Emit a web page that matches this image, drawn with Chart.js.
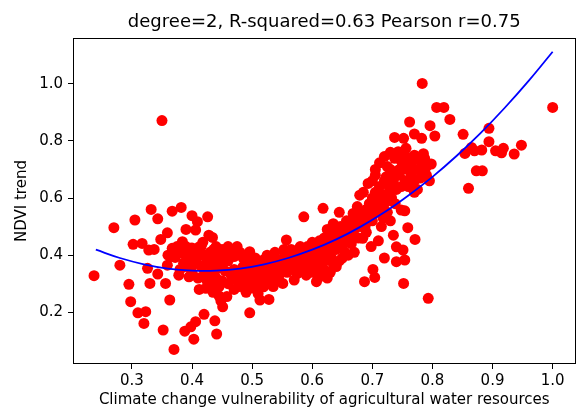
<!DOCTYPE html>
<html>
<head>
<meta charset="utf-8">
<script src="https://cdn.jsdelivr.net/npm/chart.js@4"></script>
<style>
    html, body { margin: 0; padding: 0; background: #fff; }
</style>
</head>
<body>
<canvas id="chart" width="581" height="409"></canvas>
<script>
// values
const titleText = 'degree=2, R-squared=0.63 Pearson r=0.75';
const xLabel = 'Climate change vulnerability of agricultural water resources';
const yLabel = 'NDVI trend';

const xTicks = [0.3, 0.4, 0.5, 0.6, 0.7, 0.8, 0.9, 1.0];
const yTicks = [0.2, 0.4, 0.6, 0.8, 1.0];

// fitted curve, read at intervals along x
const curveX = [0.24, 0.28, 0.32, 0.36, 0.40, 0.44, 0.48, 0.52, 0.56, 0.60, 0.64, 0.68, 0.72, 0.76, 0.80, 0.84, 0.88, 0.92, 0.96, 1.00];
const curveY = [0.419, 0.390, 0.368, 0.353, 0.346, 0.346, 0.353, 0.368, 0.390, 0.419, 0.455, 0.499, 0.550, 0.609, 0.674, 0.747, 0.827, 0.915, 1.010, 1.112];

// scatter points [x, y]
const points = [
    // left, loose part
    [0.237,0.328],[0.270,0.496],[0.280,0.365],[0.295,0.298],[0.298,0.237],[0.302,0.438],[0.305,0.523],
    [0.310,0.198],[0.317,0.441],[0.320,0.161],[0.323,0.202],[0.326,0.354],[0.328,0.418],[0.330,0.301],
    [0.332,0.560],[0.337,0.420],[0.343,0.334],[0.343,0.527],[0.348,0.455],[0.350,0.871],[0.352,0.138],
    [0.356,0.301],[0.359,0.365],[0.359,0.478],[0.363,0.243],[0.367,0.554],[0.367,0.424],[0.370,0.070],
    [0.378,0.330],[0.372,0.392],[0.382,0.567],[0.384,0.447],[0.388,0.134],[0.390,0.490],[0.395,0.324],
    [0.398,0.149],[0.400,0.538],[0.392,0.412],[0.386,0.372],[0.403,0.106],[0.406,0.167],[0.406,0.488],
    [0.409,0.517],[0.412,0.280],[0.410,0.420],[0.415,0.362],[0.402,0.398],[0.420,0.193],[0.423,0.284],
    [0.426,0.534],[0.428,0.470],[0.434,0.462],[0.438,0.170],[0.430,0.330],[0.432,0.382],[0.436,0.420],
    [0.425,0.310],[0.380,0.420],[0.360,0.400],[0.418,0.445],[0.440,0.350],[0.441,0.124],[0.445,0.257],
    [0.451,0.219],[0.378,0.418],[0.398,0.424],[0.412,0.429],
    [0.365,0.395],[0.375,0.430],[0.385,0.405],[0.390,0.430],[0.395,0.385],[0.400,0.425],[0.405,0.370],
    [0.410,0.395],[0.415,0.430],[0.420,0.400],[0.420,0.350],[0.425,0.375],[0.430,0.410],[0.435,0.360],
    [0.440,0.390],[0.440,0.430],[0.445,0.400],[0.450,0.420],[0.450,0.370],[0.455,0.395],[0.460,0.430],
    [0.460,0.380],[0.465,0.410],[0.470,0.395],[0.475,0.430],[0.480,0.410],[0.485,0.390],[0.390,0.360],
    [0.400,0.340],[0.410,0.320],[0.420,0.330],[0.430,0.300],[0.440,0.320],[0.445,0.290],[0.450,0.310],
    [0.455,0.345],[0.460,0.300],[0.465,0.330],[0.470,0.350],[0.470,0.280],[0.475,0.310],[0.480,0.335],
    [0.480,0.290],[0.485,0.360],[0.490,0.315],[0.435,0.270],[0.380,0.350],[0.448,0.240],[0.458,0.255],
    // dense band along the curve
    [0.482,0.345],[0.485,0.320],[0.488,0.300],[0.490,0.335],[0.492,0.360],[0.495,0.310],[0.497,0.345],
    [0.500,0.285],[0.500,0.325],[0.500,0.370],[0.496,0.412],[0.479,0.406],[0.496,0.198],[0.490,0.270],
    [0.495,0.380],[0.503,0.340],[0.505,0.310],[0.507,0.355],[0.510,0.330],[0.510,0.290],[0.512,0.370],
    [0.515,0.345],[0.515,0.315],[0.518,0.360],[0.519,0.289],[0.513,0.243],[0.520,0.335],[0.520,0.385],
    [0.505,0.390],[0.510,0.265],[0.522,0.350],[0.525,0.320],[0.528,0.245],[0.528,0.365],[0.530,0.340],
    [0.530,0.300],[0.533,0.380],[0.535,0.355],[0.537,0.325],[0.540,0.370],[0.540,0.345],[0.525,0.400],
    [0.535,0.290],[0.538,0.410],[0.543,0.360],[0.545,0.330],[0.547,0.385],[0.550,0.350],[0.551,0.301],
    [0.552,0.370],[0.555,0.400],[0.557,0.453],[0.558,0.340],[0.560,0.380],[0.560,0.360],[0.545,0.310],
    [0.553,0.420],[0.562,0.395],[0.565,0.350],[0.567,0.375],[0.570,0.313],[0.570,0.390],[0.572,0.410],
    [0.575,0.360],[0.577,0.385],[0.580,0.400],[0.580,0.430],[0.565,0.420],[0.575,0.335],[0.582,0.370],
    [0.585,0.395],[0.586,0.534],[0.588,0.415],[0.590,0.380],[0.592,0.430],[0.595,0.400],[0.597,0.360],
    [0.600,0.420],[0.600,0.445],[0.590,0.350],[0.598,0.390],[0.602,0.400],[0.605,0.430],[0.607,0.307],
    [0.608,0.380],[0.610,0.415],[0.612,0.450],[0.615,0.395],[0.617,0.435],[0.618,0.564],[0.620,0.420],
    [0.620,0.460],[0.605,0.360],[0.615,0.370],[0.622,0.440],[0.625,0.410],[0.627,0.465],[0.630,0.430],
    [0.630,0.450],[0.632,0.390],[0.635,0.475],[0.637,0.440],[0.640,0.460],[0.640,0.420],[0.625,0.490],
    [0.635,0.510],[0.590,0.330],[0.600,0.340],[0.610,0.320],[0.620,0.350],[0.630,0.340],[0.635,0.370],
    [0.640,0.360],[0.625,0.320],[0.615,0.345],[0.645,0.380],[0.650,0.390],[0.660,0.400],[0.670,0.410],
    [0.620,0.380],[0.630,0.400],[0.642,0.480],[0.645,0.450],[0.647,0.500],[0.650,0.465],[0.650,0.430],
    [0.652,0.490],[0.655,0.470],[0.657,0.520],[0.660,0.480],[0.660,0.450],[0.645,0.550],[0.655,0.410],
    [0.662,0.500],[0.665,0.470],[0.667,0.520],[0.668,0.546],[0.670,0.490],[0.672,0.510],[0.675,0.530],
    [0.677,0.460],[0.680,0.500],[0.680,0.550],[0.679,0.610],[0.665,0.440],[0.675,0.570],[0.682,0.520],
    [0.684,0.459],[0.685,0.540],[0.687,0.307],[0.688,0.500],[0.690,0.560],[0.692,0.530],[0.693,0.651],
    [0.695,0.580],[0.697,0.550],[0.700,0.520],[0.700,0.600],[0.690,0.480],[0.685,0.620],[0.698,0.430],
    [0.701,0.350],[0.704,0.322],[0.703,0.570],[0.705,0.620],[0.707,0.550],[0.710,0.590],[0.712,0.723],
    [0.712,0.640],[0.715,0.560],[0.717,0.610],[0.720,0.580],[0.720,0.660],[0.720,0.390],[0.710,0.450],
    [0.715,0.500],[0.705,0.680],[0.718,0.530],[0.723,0.674],[0.726,0.616],[0.725,0.590],[0.728,0.640],
    [0.730,0.520],[0.730,0.700],[0.732,0.600],[0.735,0.470],[0.735,0.660],[0.738,0.580],[0.740,0.429],
    [0.740,0.377],[0.740,0.630],[0.725,0.550],[0.745,0.680],[0.748,0.558],[0.748,0.640],[0.750,0.710],
    [0.751,0.418],[0.752,0.301],[0.754,0.555],[0.754,0.383],[0.755,0.660],[0.758,0.700],[0.759,0.496],
    [0.771,0.455],[0.793,0.249],
    // upper right
    [0.705,0.700],[0.720,0.745],[0.725,0.710],[0.730,0.760],[0.737,0.739],[0.743,0.762],[0.748,0.730],
    [0.750,0.750],[0.745,0.700],[0.700,0.660],[0.735,0.690],
    [0.760,0.740],[0.765,0.720],[0.770,0.750],[0.775,0.700],[0.780,0.730],[0.785,0.690],[0.790,0.710],
    [0.765,0.680],[0.770,0.660],[0.780,0.670],[0.760,0.640],[0.775,0.630],[0.790,0.680],[0.795,0.660],
    [0.760,0.700],[0.785,0.755],[0.770,0.620],
    [0.737,0.812],[0.752,0.809],[0.756,0.774],[0.762,0.866],[0.770,0.824],[0.782,0.809],[0.783,1.001],
    [0.796,0.853],[0.804,0.817],[0.807,0.917],[0.819,0.917],[0.829,0.875],[0.851,0.823],[0.865,0.777],
    [0.894,0.844],[0.894,0.797],[0.918,0.774],[0.948,0.785],[1.000,0.917],[0.787,0.739],[0.798,0.719],
    [0.854,0.756],[0.882,0.768],[0.915,0.758],[0.936,0.754],[0.860,0.634],[0.873,0.695],[0.883,0.695],
    [0.870,0.765],[0.905,0.765]
];

const FONT = 'DejaVu Sans';

// matplotlib style box around the plot area + centred title
const framePlugin = {
    id: 'frame',
    afterDraw: function(chart) {
        const a = chart.chartArea;
        const ctx = chart.ctx;
        ctx.save();
        ctx.strokeStyle = '#000';
        ctx.lineWidth = 1;
        ctx.strokeRect(Math.round(a.left) + 0.5, Math.round(a.top) + 0.5,
            Math.round(a.right - a.left) - 1, Math.round(a.bottom - a.top) - 1);
        ctx.fillStyle = '#000';
        ctx.font = '18px "' + FONT + '"';
        ctx.textAlign = 'center';
        ctx.textBaseline = 'alphabetic';
        ctx.fillText(titleText, (a.left + a.right) / 2, 27);
        ctx.restore();
    }
};

new Chart(document.getElementById('chart'), {
    data: {
        datasets: [
            {
                type: 'line',
                data: curveX.map((x, i) => ({ x: x, y: curveY[i] })),
                borderColor: '#0000ff',
                borderWidth: 1.8,
                pointRadius: 0,
                tension: 0.4,
                fill: false
            },
            {
                type: 'scatter',
                data: points.map(p => ({ x: p[0], y: p[1] })),
                backgroundColor: '#ff0000',
                borderWidth: 0,
                pointRadius: 5.5
            }
        ]
    },
    options: {
        responsive: false,
        animation: false,
        events: [],
        layout: { padding: { top: 38, right: 4, left: 0, bottom: 0 } },
        plugins: {
            legend: { display: false },
            tooltip: { enabled: false },
            title: { display: false }
        },
        scales: {
            x: {
                type: 'linear',
                min: 0.202,
                max: 1.038,
                afterBuildTicks: function(s) { s.ticks = xTicks.map(v => ({ value: v })); },
                afterFit: function(s) { s.height = 45; },
                border: { display: false },
                grid: { drawOnChartArea: false, drawTicks: true, tickLength: 5, color: '#000' },
                ticks: {
                    callback: v => v.toFixed(1),
                    font: { family: FONT, size: 15 },
                    color: '#000',
                    padding: 3,
                    maxRotation: 0,
                    autoSkip: false
                },
                title: {
                    display: true,
                    text: xLabel,
                    font: { family: FONT, size: 15 },
                    color: '#000',
                    padding: { top: 0, bottom: 0 }
                }
            },
            y: {
                type: 'linear',
                min: 0.019,
                max: 1.160,
                afterBuildTicks: function(s) { s.ticks = yTicks.map(v => ({ value: v })); },
                afterFit: function(s) { s.width = 73; },
                border: { display: false },
                grid: { drawOnChartArea: false, drawTicks: true, tickLength: 5, color: '#000' },
                ticks: {
                    callback: v => v.toFixed(1),
                    font: { family: FONT, size: 15 },
                    color: '#000',
                    padding: 5,
                    autoSkip: false
                },
                title: {
                    display: true,
                    text: yLabel,
                    font: { family: FONT, size: 15 },
                    color: '#000',
                    padding: { top: 13, bottom: 0 }
                }
            }
        }
    },
    plugins: [framePlugin]
});
</script>
</body>
</html>
